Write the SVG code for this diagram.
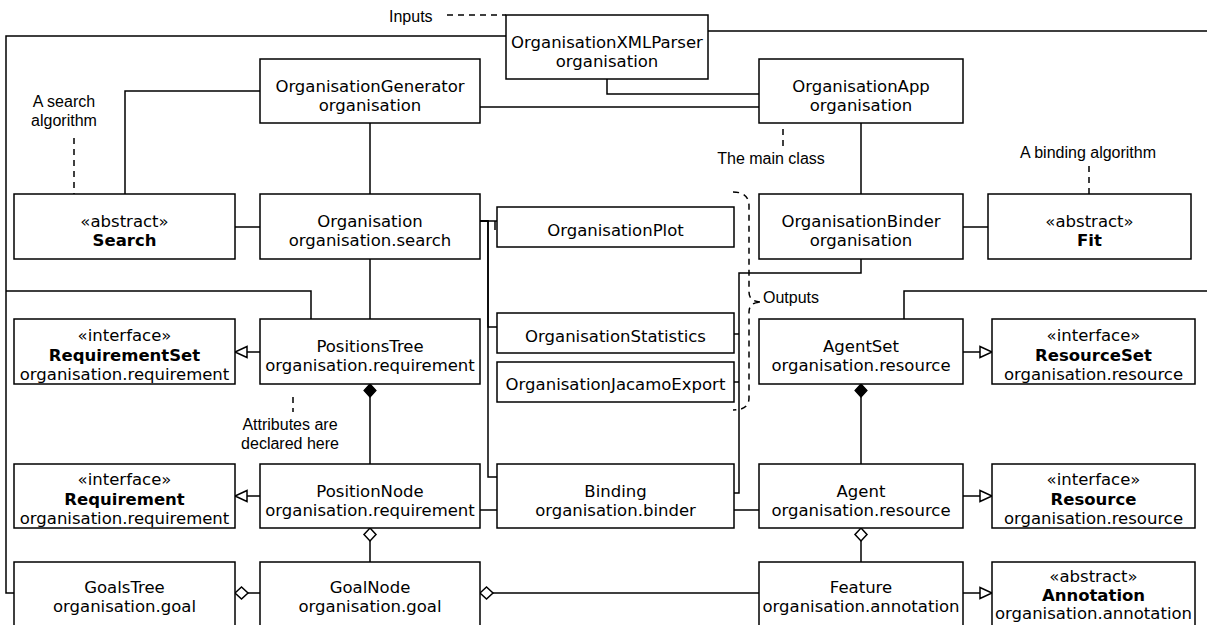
<svg xmlns="http://www.w3.org/2000/svg" width="1207" height="625" viewBox="0 0 1207 625">
<style>
.box{fill:#fff;stroke:#000;stroke-width:1.5}
.t{font-family:"DejaVu Sans",Verdana,sans-serif;font-size:16.5px;text-anchor:middle;fill:#000}
.b{font-weight:bold}
.n{font-family:"Liberation Sans",Arial,sans-serif;font-size:16px;fill:#000}
.c{fill:none;stroke:#000;stroke-width:1.5}
.d{fill:none;stroke:#000;stroke-width:1.5;stroke-dasharray:6 5}
</style>
<defs>
<marker id="tri" markerUnits="userSpaceOnUse" markerWidth="14" markerHeight="13" refX="12" refY="5.5" orient="auto" overflow="visible"><path d="M0,0 L12,5.5 L0,11 z" fill="#fff" stroke="#000" stroke-width="1.5"/></marker>
<marker id="dmf" markerUnits="userSpaceOnUse" markerWidth="15" markerHeight="14" refX="0" refY="6" orient="auto" overflow="visible"><path d="M0,6 L6.5,0 L13,6 L6.5,12 z" fill="#000" stroke="#000" stroke-width="1.2"/></marker>
<marker id="dmh" markerUnits="userSpaceOnUse" markerWidth="15" markerHeight="14" refX="0" refY="6" orient="auto" overflow="visible"><path d="M0,6 L6.5,0 L13,6 L6.5,12 z" fill="#fff" stroke="#000" stroke-width="1.5"/></marker>
</defs>
<rect width="1207" height="625" fill="#fff"/>
<g id="connectors">
<path class="c" d="M506,36 H6 V593 H14"/>
<path class="c" d="M6,291 H311 V319"/>
<path class="c" d="M708,31 H1215 V291 H904 V319"/>
<path class="c" d="M607,79 V94 H759"/>
<path class="c" d="M480,107 H759"/>
<path class="c" d="M260,91 H125 V194"/>
<path class="c" d="M370,123 V194"/>
<path class="c" d="M861,123 V194"/>
<path class="c" d="M235,227 H260"/>
<path class="c" d="M963,227 H988"/>
<path class="c" d="M480,221 H497 M495,221 V230"/>
<path class="c" d="M480,221 H488 V327 H497"/>
<path class="c" d="M480,221 H488 V477 H497"/>
<path class="c" d="M861,259 V273 H739 V493 H734"/>
<path class="c" d="M734,334 H739"/>
<path class="c" d="M734,382 H739"/>
<path class="c" d="M370,320 V259"/>
<path class="c" d="M260,352 H235" marker-end="url(#tri)"/>
<path class="c" d="M370,384 V464" marker-start="url(#dmf)"/>
<path class="c" d="M260,496 H235" marker-end="url(#tri)"/>
<path class="c" d="M480,510 H497"/>
<path class="c" d="M734,510 H759"/>
<path class="c" d="M370,528 V562" marker-start="url(#dmh)"/>
<path class="c" d="M235,593 H260" marker-start="url(#dmh)"/>
<path class="c" d="M480,593 H759" marker-start="url(#dmh)"/>
<path class="c" d="M963,352 H992" marker-end="url(#tri)"/>
<path class="c" d="M861,384 V464" marker-start="url(#dmf)"/>
<path class="c" d="M963,496 H992" marker-end="url(#tri)"/>
<path class="c" d="M861,528 V562" marker-start="url(#dmh)"/>
<path class="c" d="M963,593 H992" marker-end="url(#tri)"/>
<path class="d" d="M447,15 H506"/>
<path class="d" d="M74,138 V194"/>
<path class="d" d="M783,129 V146"/>
<path class="d" d="M1089,166 V194"/>
<path class="d" d="M293,397 V412"/>
<path class="d" d="M733,192 Q749,192 749,206 V292 Q749,302 762,302 Q749,302 749,312 V398 Q749,410 733,410"/>
</g>
<g id="notes">
<text class="n" x="389" y="22">Inputs</text>
<text class="n" x="64" y="107" text-anchor="middle">A search</text>
<text class="n" x="64" y="126" text-anchor="middle">algorithm</text>
<text class="n" x="771" y="164" text-anchor="middle">The main class</text>
<text class="n" x="1088" y="158" text-anchor="middle">A binding algorithm</text>
<text class="n" x="763" y="303">Outputs</text>
<text class="n" x="290" y="430" text-anchor="middle">Attributes are</text>
<text class="n" x="290" y="449" text-anchor="middle">declared here</text>
</g>
<g id="OrganisationXMLParser"><rect class="box" x="506" y="15" width="202" height="64"/><text class="t" x="607" y="48">OrganisationXMLParser</text><text class="t" x="607" y="67">organisation</text></g>
<g id="OrganisationGenerator"><rect class="box" x="260" y="59" width="220" height="64"/><text class="t" x="370" y="92">OrganisationGenerator</text><text class="t" x="370" y="111">organisation</text></g>
<g id="OrganisationApp"><rect class="box" x="759" y="59" width="204" height="64"/><text class="t" x="861" y="92">OrganisationApp</text><text class="t" x="861" y="111">organisation</text></g>
<g id="Search"><rect class="box" x="14" y="194" width="221" height="65"/><text class="t" x="124.5" y="227">«abstract»</text><text class="t b" x="124.5" y="246">Search</text></g>
<g id="Organisation"><rect class="box" x="260" y="194" width="220" height="65"/><text class="t" x="370" y="227">Organisation</text><text class="t" x="370" y="246">organisation.search</text></g>
<g id="OrganisationPlot"><rect class="box" x="497" y="207" width="237" height="40"/><text class="t" x="615.5" y="236">OrganisationPlot</text></g>
<g id="OrganisationBinder"><rect class="box" x="759" y="194" width="204" height="65"/><text class="t" x="861" y="227">OrganisationBinder</text><text class="t" x="861" y="246">organisation</text></g>
<g id="Fit"><rect class="box" x="988" y="194" width="203" height="65"/><text class="t" x="1089.5" y="227">«abstract»</text><text class="t b" x="1089.5" y="246">Fit</text></g>
<g id="RequirementSet"><rect class="box" x="14" y="319" width="221" height="65"/><text class="t" x="124.5" y="341">«interface»</text><text class="t b" x="124.5" y="361">RequirementSet</text><text class="t" x="124.5" y="380">organisation.requirement</text></g>
<g id="PositionsTree"><rect class="box" x="260" y="319" width="220" height="65"/><text class="t" x="370" y="352">PositionsTree</text><text class="t" x="370" y="371">organisation.requirement</text></g>
<g id="OrganisationStatistics"><rect class="box" x="497" y="313" width="237" height="40"/><text class="t" x="615.5" y="342">OrganisationStatistics</text></g>
<g id="OrganisationJacamoExport"><rect class="box" x="497" y="362" width="237" height="40"/><text class="t" x="615.5" y="390">OrganisationJacamoExport</text></g>
<g id="AgentSet"><rect class="box" x="759" y="319" width="204" height="65"/><text class="t" x="861" y="352">AgentSet</text><text class="t" x="861" y="371">organisation.resource</text></g>
<g id="ResourceSet"><rect class="box" x="992" y="319" width="203" height="65"/><text class="t" x="1093.5" y="341">«interface»</text><text class="t b" x="1093.5" y="361">ResourceSet</text><text class="t" x="1093.5" y="380">organisation.resource</text></g>
<g id="Requirement"><rect class="box" x="14" y="464" width="221" height="64"/><text class="t" x="124.5" y="485">«interface»</text><text class="t b" x="124.5" y="505">Requirement</text><text class="t" x="124.5" y="524">organisation.requirement</text></g>
<g id="PositionNode"><rect class="box" x="260" y="464" width="220" height="64"/><text class="t" x="370" y="497">PositionNode</text><text class="t" x="370" y="516">organisation.requirement</text></g>
<g id="Binding"><rect class="box" x="497" y="464" width="237" height="64"/><text class="t" x="615.5" y="497">Binding</text><text class="t" x="615.5" y="516">organisation.binder</text></g>
<g id="Agent"><rect class="box" x="759" y="464" width="204" height="64"/><text class="t" x="861" y="497">Agent</text><text class="t" x="861" y="516">organisation.resource</text></g>
<g id="Resource"><rect class="box" x="992" y="464" width="203" height="64"/><text class="t" x="1093.5" y="485">«interface»</text><text class="t b" x="1093.5" y="505">Resource</text><text class="t" x="1093.5" y="524">organisation.resource</text></g>
<g id="GoalsTree"><rect class="box" x="14" y="562" width="221" height="64"/><text class="t" x="124.5" y="593">GoalsTree</text><text class="t" x="124.5" y="612">organisation.goal</text></g>
<g id="GoalNode"><rect class="box" x="260" y="562" width="220" height="64"/><text class="t" x="370" y="593">GoalNode</text><text class="t" x="370" y="612">organisation.goal</text></g>
<g id="Feature"><rect class="box" x="759" y="562" width="204" height="64"/><text class="t" x="861" y="593">Feature</text><text class="t" x="861" y="612">organisation.annotation</text></g>
<g id="Annotation"><rect class="box" x="992" y="562" width="203" height="64"/><text class="t" x="1093.5" y="582">«abstract»</text><text class="t b" x="1093.5" y="601">Annotation</text><text class="t" x="1093.5" y="619">organisation.annotation</text></g>
</svg>
